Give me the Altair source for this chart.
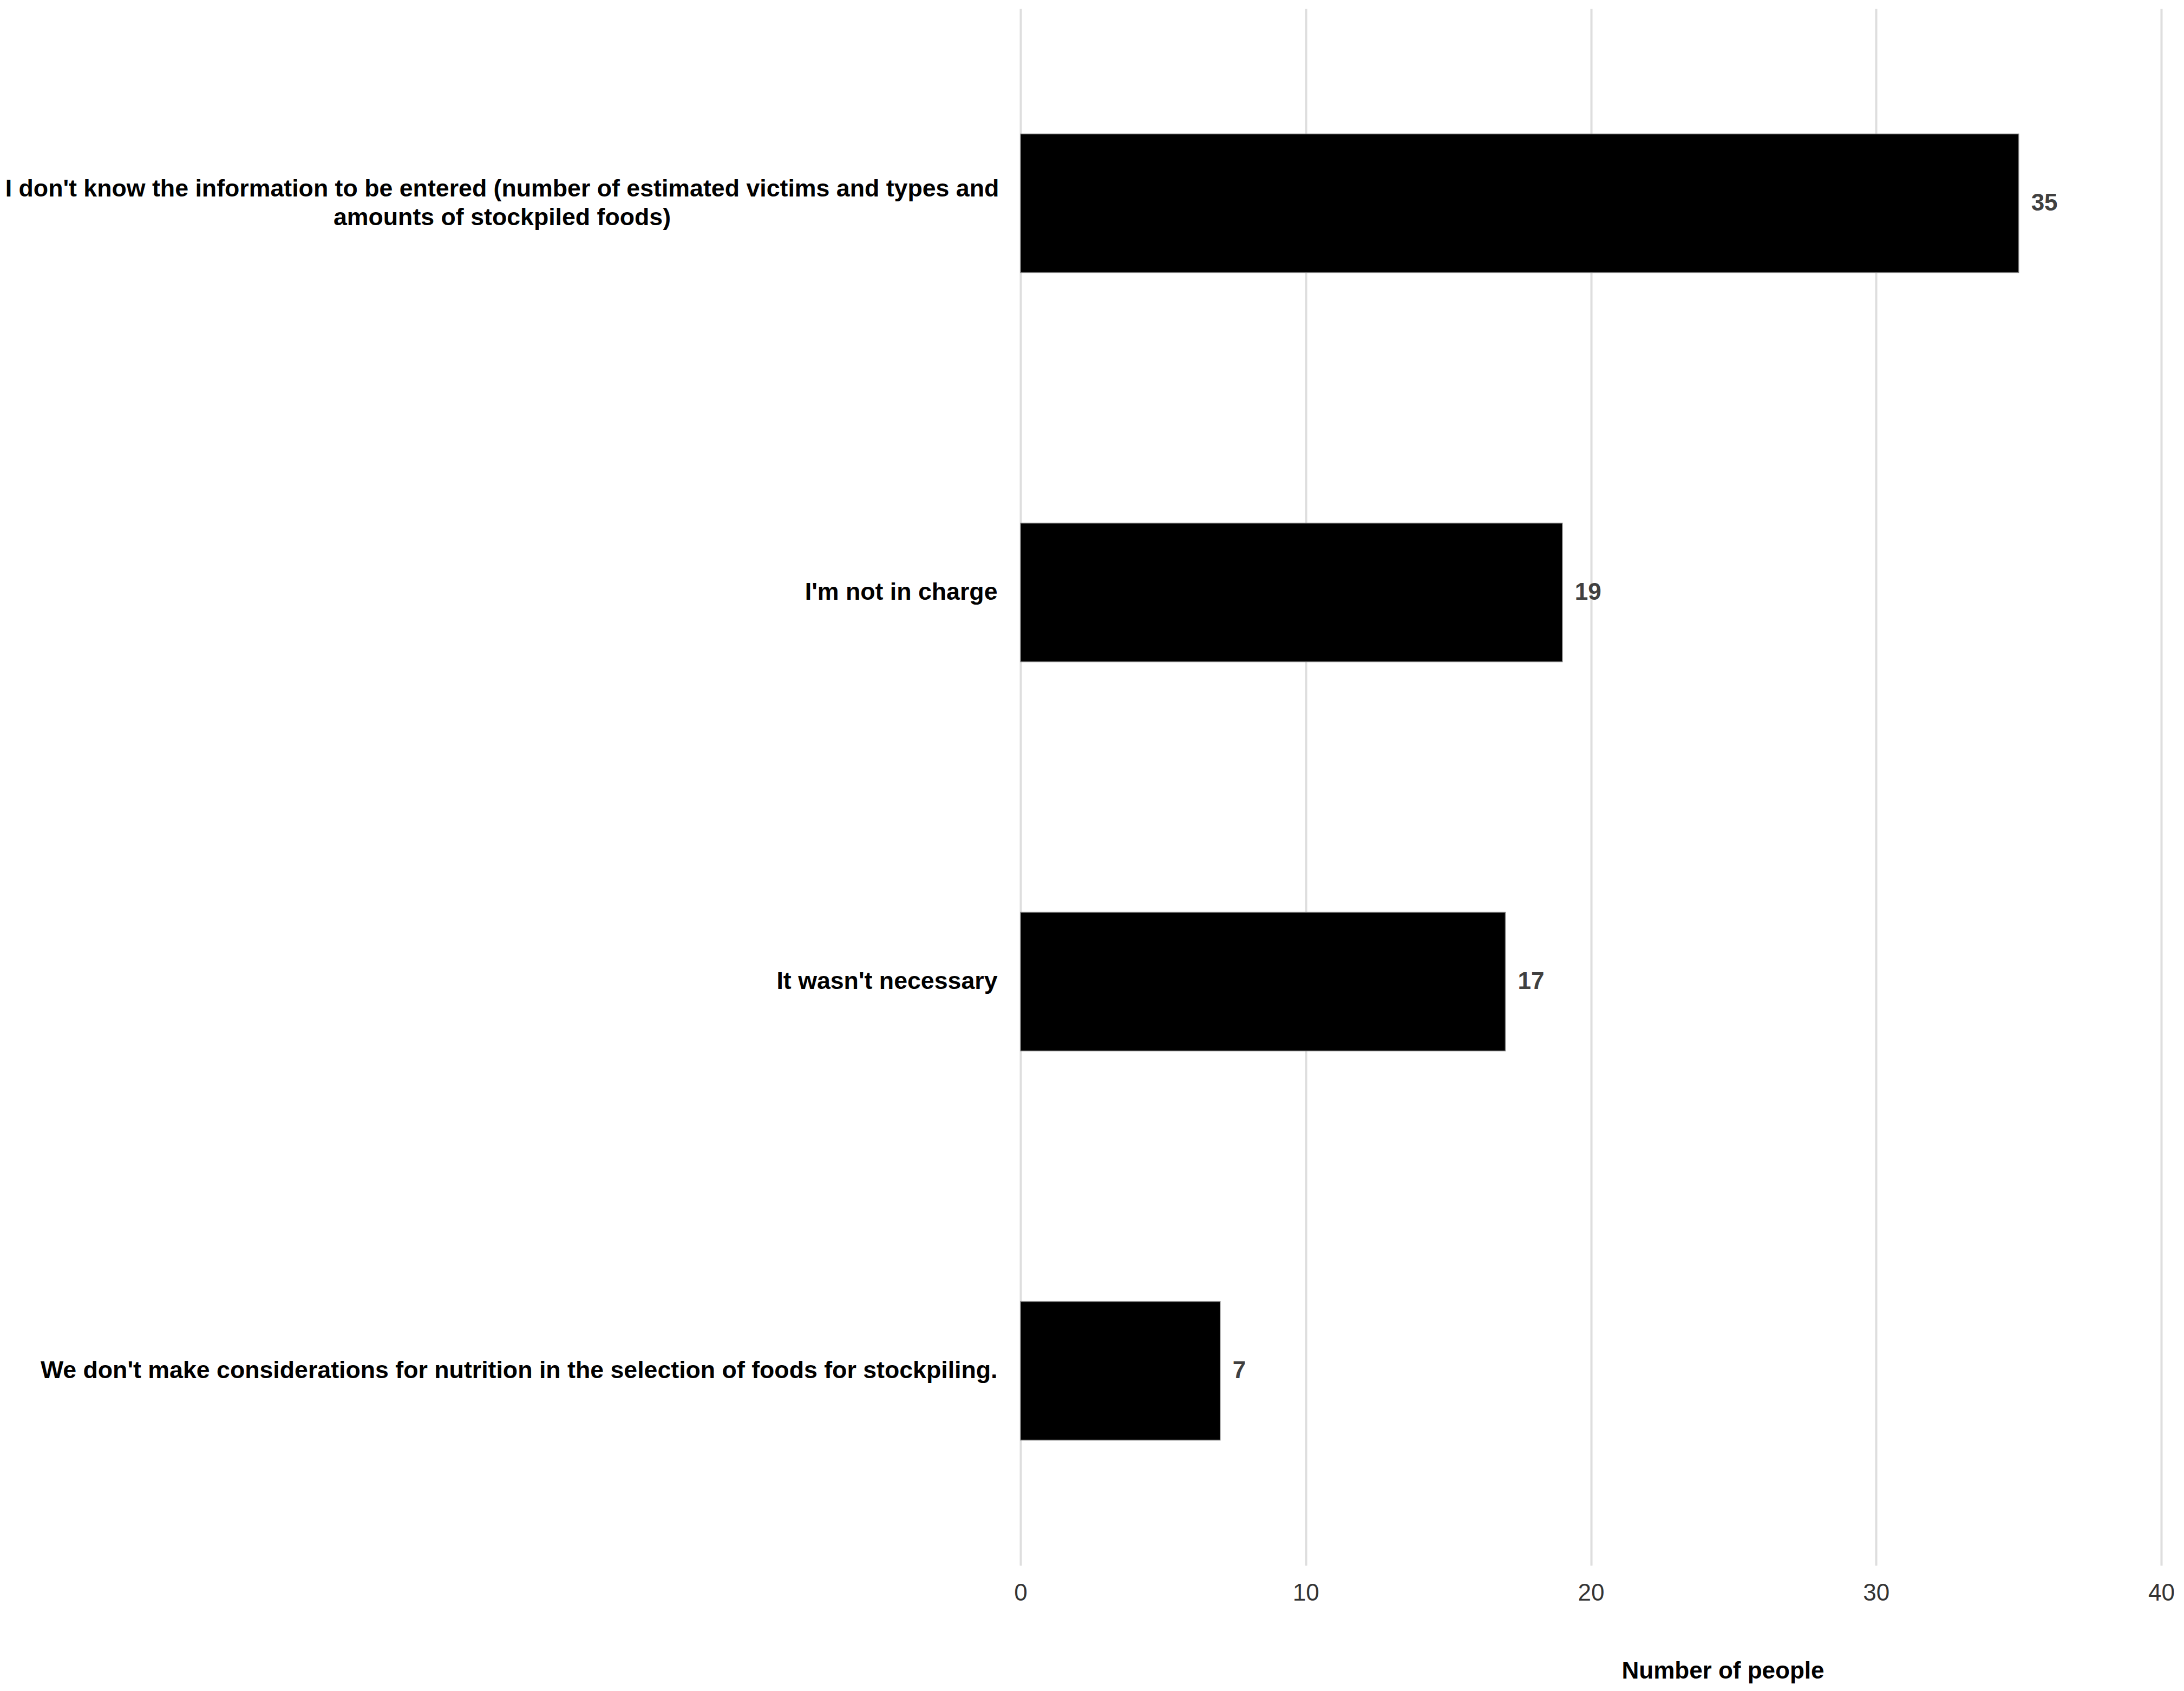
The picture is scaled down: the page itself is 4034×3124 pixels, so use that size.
import altair as alt
import pandas as pd

categories = [
    "I don't know the information to be entered (number of estimated victims and types and\namounts of stockpiled foods)",
    "I'm not in charge",
    "It wasn't necessary",
    "We don't make considerations for nutrition in the selection of foods for stockpiling.",
]
values = [35, 19, 17, 7]
x_ticks = [0, 10, 20, 30, 40]

df = pd.DataFrame({"category": categories, "value": values})

FONT = "Liberation Sans"
LONG = "length(datum.value) > 100"

y_enc = alt.Y(
    "category:N",
    sort=categories,
    scale=alt.Scale(paddingInner=0.644, paddingOuter=0.322),
    axis=alt.Axis(
        title=None,
        domain=False,
        ticks=False,
        tickSize=0,
        grid=False,
        labelExpr="split(datum.label, '\\n')",
        labelFont=FONT,
        labelFontSize=44.7,
        labelFontWeight="bold",
        labelColor="#000000",
        labelLineHeight=53,
        labelLimit=3000,
        labelBaseline="middle",
        labelAlign={"condition": {"test": LONG, "value": "center"}, "value": "right"},
        labelPadding={"condition": {"test": LONG, "value": 958}, "value": 43},
        labelOffset={"condition": {"test": LONG, "value": -26}, "value": 0},
    ),
)

x_enc = alt.X(
    "value:Q",
    scale=alt.Scale(domain=[0, 40], nice=False),
    axis=alt.Axis(
        values=x_ticks,
        title="Number of people",
        domain=False,
        ticks=False,
        tickSize=0,
        grid=True,
        gridColor="#dedede",
        gridWidth=4,
        labelFlush=False,
        labelFont=FONT,
        labelFontSize=44,
        labelColor="#333333",
        labelBaseline="middle",
        labelPadding=51,
        titleFont=FONT,
        titleFontSize=44,
        titleFontWeight="bold",
        titleColor="#000000",
        titleX=1297,
        titleY=195,
        titleBaseline="middle",
        titleAlign="center",
    ),
)

bars = alt.Chart(df).mark_bar(color="#000000", stroke="#7f7f7f", strokeWidth=1.5).encode(
    x=x_enc,
    y=y_enc,
)

labels = alt.Chart(df).mark_text(
    align="left",
    baseline="middle",
    dx=23,
    font=FONT,
    fontSize=44,
    fontWeight="bold",
    color="#404040",
).encode(
    x="value:Q",
    y=alt.Y("category:N", sort=categories),
    text="value:Q",
)

chart = (
    alt.layer(bars, labels)
    .properties(
        width=2107,
        height=2876,
        autosize=alt.AutoSizeParams(type="none"),
        padding={"left": 1877, "top": 8, "right": 34, "bottom": 220},
        background="#ffffff",
    )
    .configure_view(strokeWidth=0)
)

chart.save("out.html", embed_options={"renderer": "svg", "actions": False})
